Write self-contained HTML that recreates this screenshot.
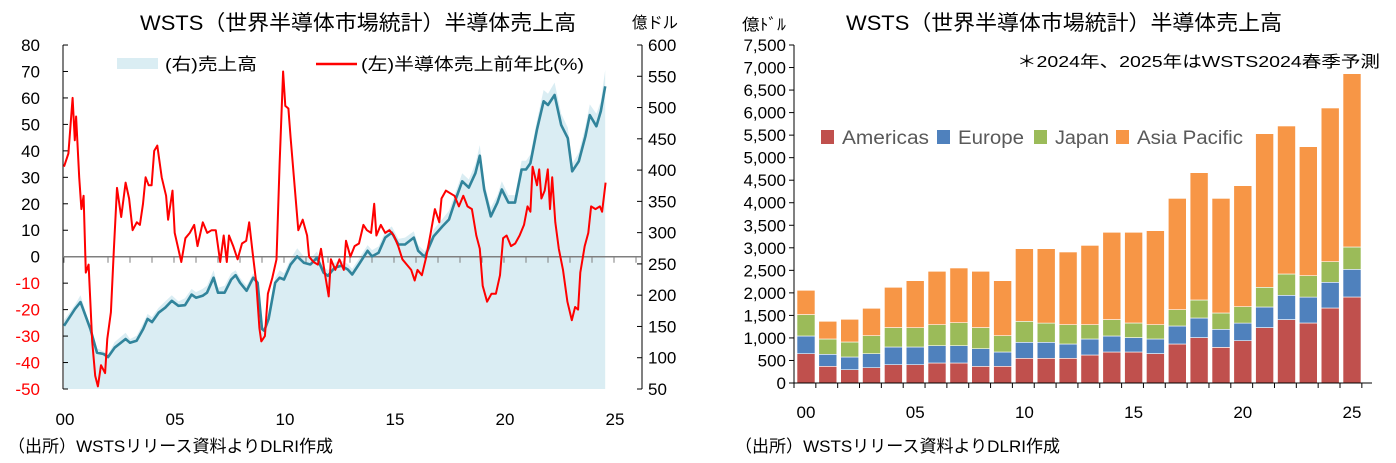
<!DOCTYPE html>
<html><head><meta charset="utf-8"><style>
html,body{margin:0;padding:0;background:#fff;}
svg{display:block;font-family:"Liberation Sans","Noto Sans CJK JP",sans-serif;}
</style></head><body>
<svg id="c" width="1396" height="463" viewBox="0 0 1396 463" xmlns="http://www.w3.org/2000/svg">
<g>
<text x="358" y="30" font-size="21" text-anchor="middle" textLength="436" lengthAdjust="spacingAndGlyphs">WSTS（世界半導体市場統計）半導体売上高</text>
<text x="632" y="28" font-size="16" textLength="46" lengthAdjust="spacingAndGlyphs">億ドル</text>
<g id="lplot"></g>
<g>
<rect x="117" y="58" width="41" height="11" fill="#daedf3"/>
<text x="165" y="70" font-size="17" textLength="92" lengthAdjust="spacingAndGlyphs">(右)売上高</text>
<line x1="316" y1="64" x2="357" y2="64" stroke="#ff0000" stroke-width="2.5"/>
<text x="361" y="70" font-size="17" textLength="223" lengthAdjust="spacingAndGlyphs">(左)半導体売上前年比(%)</text>
</g>
<text x="8" y="452" font-size="17" textLength="325" lengthAdjust="spacingAndGlyphs">（出所）WSTSリリース資料よりDLRI作成</text>
</g>
<g>
<text x="1064" y="30" font-size="21" text-anchor="middle" textLength="436" lengthAdjust="spacingAndGlyphs">WSTS（世界半導体市場統計）半導体売上高</text>
<text x="742" y="30" font-size="16" textLength="44" lengthAdjust="spacingAndGlyphs">億ﾄﾞﾙ</text>
<text x="1380" y="67" font-size="16" text-anchor="end" textLength="363" lengthAdjust="spacingAndGlyphs">＊2024年、2025年はWSTS2024春季予測</text>
<g id="rplot"></g>
<g id="rleg"></g>
<text x="735" y="452" font-size="17" textLength="325" lengthAdjust="spacingAndGlyphs">（出所）WSTSリリース資料よりDLRI作成</text>
</g>
</svg>
<script>
// ---- Left chart data ----
const yoyYears=[0,0.2,0.39,0.49,0.55,0.69,0.79,0.89,0.99,1.12,1.28,1.42,1.54,1.68,1.87,1.97,2.13,2.27,2.41,2.6,2.8,2.96,3.12,3.31,3.45,3.59,3.71,3.85,3.98,4.1,4.24,4.44,4.64,4.73,4.93,5.03,5.33,5.52,5.72,5.92,6.07,6.31,6.51,6.71,6.9,7.1,7.26,7.4,7.5,7.69,7.89,8.09,8.28,8.42,8.58,8.74,8.88,8.97,9.13,9.27,9.47,9.66,9.8,9.96,10.06,10.2,10.3,10.45,10.65,10.85,11.05,11.14,11.34,11.54,11.68,11.83,12.03,12.13,12.33,12.52,12.72,12.82,13.02,13.21,13.41,13.61,13.77,13.96,14.1,14.2,14.4,14.6,14.79,14.99,15.19,15.38,15.58,15.78,15.94,16.07,16.27,16.47,16.67,16.86,17.06,17.16,17.36,17.55,17.75,17.95,18.15,18.34,18.54,18.74,18.9,19.03,19.23,19.43,19.63,19.82,19.96,20.12,20.32,20.51,20.71,20.91,21.07,21.2,21.3,21.5,21.6,21.7,21.85,21.99,22.09,22.19,22.33,22.49,22.68,22.88,23.08,23.23,23.37,23.47,23.67,23.83,23.96,24.16,24.36,24.46,24.62];
const yoyValues=[34,39,60,44,53,30,18,23,-6,-3,-32,-45,-49,-41,-44,-31,-21,3,26,15,28,22,10,13,12,20,30,27,27,40,42,30,23,14,25,9,-2,7,9,12,4,13,9,10,10,-2,8,-2,8,4,-1,5,6,13,1,-10,-27,-32,-30,-14,-8,-1,35,70,57,56,45,30,10,14,8,0,-2,-3,3,-5,-15,-1,-5,-1,-5,6,0,4,5,12,10,9,20,8,12,9,10,8,4,-1,-3,-5,-9,-5,-7,0,9,18,13,22,25,24,23,19,23,19,18,8,3,-11,-17,-14,-14,-7,7,8,4,5,8,12,19,17,34,27,33,22,25,33,18,30,13,3,-5,-17,-24,-19,-20,-6,4,9,19,18,19,17,28];
const salesYears=[0,0.5,0.75,1.2,1.5,1.8,2.0,2.3,2.8,3.0,3.3,3.6,3.8,4.0,4.3,4.6,4.9,5.2,5.5,5.8,6.0,6.3,6.5,6.8,7.0,7.3,7.6,7.8,8.0,8.3,8.6,8.8,9.0,9.1,9.3,9.6,9.8,10.0,10.3,10.6,10.9,11.2,11.5,11.8,12.0,12.3,12.6,12.9,13.1,13.4,13.8,14.0,14.3,14.6,14.9,15.2,15.5,15.9,16.1,16.4,16.8,17.2,17.5,17.8,18.1,18.4,18.7,18.9,19.1,19.4,19.7,19.9,20.2,20.5,20.8,21.0,21.2,21.5,21.8,22.0,22.3,22.6,22.9,23.1,23.4,23.7,23.9,24.2,24.4,24.6];
const salesValues=[151,178,189,146,108,106,101,116,130,124,127,146,162,157,172,180,191,183,184,201,196,199,204,228,204,204,225,232,220,207,228,220,146,143,162,220,228,225,249,262,252,249,260,236,231,244,247,241,233,249,271,262,268,292,300,281,281,292,271,261,294,310,321,353,382,372,395,423,369,326,348,369,348,348,401,401,411,465,510,504,520,472,451,398,414,454,488,470,494,534];
const salesAreaValues=[160,185,200,150,115,110,105,125,140,130,135,155,170,165,180,190,200,190,195,210,205,210,215,240,212,215,235,240,228,215,235,225,150,148,170,228,240,235,258,275,262,258,270,245,240,252,256,250,242,258,280,272,278,302,310,290,292,302,280,270,305,322,335,365,395,385,410,440,380,340,360,382,360,360,415,415,425,480,528,522,540,490,468,410,428,470,505,490,510,560];
const leftTicks=[80,70,60,50,40,30,20,10,0,-10,-20,-30,-40,-50];
const rightTicks=[600,550,500,450,400,350,300,250,200,150,100,50];
const yearLabels=["00","05","10","15","20","25"];
// ---- Right chart data ----
const barYears=[2000,2001,2002,2003,2004,2005,2006,2007,2008,2009,2010,2011,2012,2013,2014,2015,2016,2017,2018,2019,2020,2021,2022,2023,2024,2025];
const americas=[651,370,296,340,407,407,444,444,370,370,547,547,547,621,688,688,651,865,1006,791,939,1228,1405,1331,1664,1908];
const europe=[392,266,281,311,392,392,384,384,392,318,355,355,318,355,355,318,325,400,436,400,392,458,540,577,570,614];
const japan=[473,340,333,399,429,429,466,511,466,362,466,429,429,318,362,325,318,362,400,362,363,437,473,474,458,496];
const asiaPacific=[540,392,503,607,895,1043,1184,1213,1250,1221,1613,1650,1613,1760,1938,2012,2086,2470,2825,2544,2684,3409,3284,2862,3410,3845];
const barTicks=[0,500,1000,1500,2000,2500,3000,3500,4000,4500,5000,5500,6000,6500,7000,7500];
const seriesNames=["Americas","Europe","Japan","Asia Pacific"];
const seriesColors=["#c0504d","#4f81bd","#9bbb59","#f79646"];

const NS="http://www.w3.org/2000/svg";
function mk(tag,attrs,parent,txt){const e=document.createElementNS(NS,tag);for(const k in attrs)e.setAttribute(k,attrs[k]);if(txt!==undefined)e.textContent=txt;parent.appendChild(e);return e;}

const lx=t=>64+t*22;
const ly=v=>256.7-v*2.646;
const ry=v=>45+(600-v)*344/550;
const lp=document.getElementById('lplot');

let ad="M"+lx(salesYears[0])+","+ry(50);
salesYears.forEach((t,i)=>{ad+=" L"+lx(t).toFixed(1)+","+ry(salesAreaValues[i]).toFixed(1);});
ad+=" L"+lx(salesYears[salesYears.length-1]).toFixed(1)+","+ry(50)+" Z";
const area=mk('path',{d:ad,fill:'#daedf3'},lp);



const la=mk('line',{x1:63,y1:45,x2:63,y2:389,stroke:'#000','stroke-width':1},lp);


const ra=mk('line',{x1:642,y1:45,x2:642,y2:389,stroke:'#000','stroke-width':1},lp);


leftTicks.forEach(v=>{
  mk('line',{x1:63,y1:ly(v),x2:68,y2:ly(v),stroke:'#000'},lp);
  const t=mk('text',{x:40,y:ly(v)+6,'font-size':17,'text-anchor':'end',fill:v<0?'#ff0000':'#000'},lp,String(v));
  
  
});
rightTicks.forEach(v=>{
  mk('line',{x1:637,y1:ry(v),x2:642,y2:ry(v),stroke:'#000'},lp);
  const t=mk('text',{x:648,y:ry(v)+6,'font-size':17},lp,String(v));
  
  
});
const zl=mk('line',{x1:63,y1:ly(0),x2:642,y2:ly(0),stroke:'#7f7f7f','stroke-width':1.5},lp);


for(let i=0;i<=26;i++){mk('line',{x1:lx(i),y1:ly(0),x2:lx(i),y2:ly(0)+6,stroke:'#7f7f7f'},lp);}
yearLabels.forEach((s,i)=>{
  const t=mk('text',{x:lx(i*5)+1,y:425,'font-size':17,'text-anchor':'middle'},lp,s);
  
  
});
const sp=mk('polyline',{points:salesYears.map((t,i)=>lx(t).toFixed(1)+","+ry(salesValues[i]).toFixed(1)).join(" "),fill:'none',stroke:'#31849b','stroke-width':2.6,'stroke-linejoin':'round'},lp);


const yp=mk('polyline',{points:yoyYears.map((t,i)=>lx(t).toFixed(1)+","+ly(yoyValues[i]).toFixed(1)).join(" "),fill:'none',stroke:'#ff0000','stroke-width':2,'stroke-linejoin':'round'},lp);



const rp=document.getElementById('rplot');
const bx=y=>797+(y-2000)*21.84;
const by=v=>383-v*338/7500;
const bw=18;
const rya=mk('line',{x1:794,y1:45,x2:794,y2:383,stroke:'#000'},rp);


barTicks.forEach(v=>{
  mk('line',{x1:789,y1:by(v),x2:794,y2:by(v),stroke:'#000'},rp);
  const t=mk('text',{x:786,y:by(v)+6,'font-size':17,'text-anchor':'end'},rp,v.toLocaleString('en-US'));
  
  
});
const series=[americas,europe,japan,asiaPacific];
barYears.forEach((yr,i)=>{
  let base=0;
  series.forEach((s,k)=>{
    const r=mk('rect',{x:bx(yr).toFixed(1),y:by(base+s[i]).toFixed(1),width:bw,height:(by(base)-by(base+s[i])).toFixed(1),fill:seriesColors[k],stroke:'#fff','stroke-width':0.6},rp);
    
    
    base+=s[i];
  });
});
const rxa=mk('line',{x1:794,y1:383,x2:1372,y2:383,stroke:'#000'},rp);


for(let i=0;i<=26;i++){mk('line',{x1:794+i*21.84,y1:383,x2:794+i*21.84,y2:388,stroke:'#000'},rp);}
yearLabels.forEach((s,i)=>{
  const t=mk('text',{x:bx(2000+i*5)+bw/2,y:418,'font-size':17,'text-anchor':'middle'},rp,s);
  
  
});
const rl=document.getElementById('rleg');
const legX=[821,937,1034,1116];
const legW=[87,66,54,106];
seriesNames.forEach((n,k)=>{
  const r=mk('rect',{x:legX[k],y:130,width:13,height:14,fill:seriesColors[k]},rl);
  
  
  const t=mk('text',{x:legX[k]+21,y:144,'font-size':19,fill:'#595959',textLength:legW[k],lengthAdjust:'spacingAndGlyphs'},rl,n);
  
  
});
</script>
</body></html>
